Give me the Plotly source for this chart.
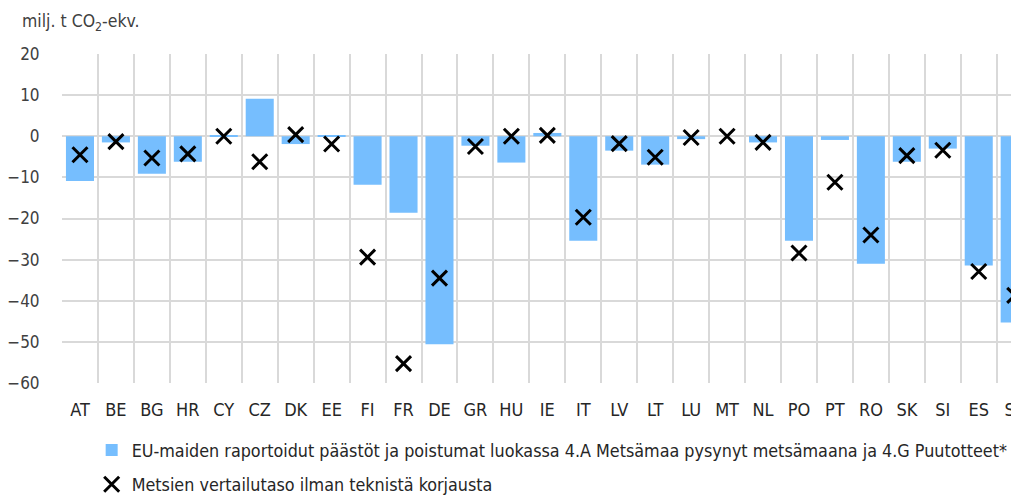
"""
EU forest land emissions/removals vs forest reference level, bar + cross chart.
"""

import plotly.graph_objects as go

countries = ["AT", "BE", "BG", "HR", "CY", "CZ", "DK", "EE", "FI", "FR", "DE", "GR", "HU", "IE",
             "IT", "LV", "LT", "LU", "MT", "NL", "PO", "PT", "RO", "SK", "SI", "ES", "SE"]
reported = [-10.9, -1.5, -9.1, -6.2, 0.2, 9.1, -1.9, 0.3, -11.8, -18.6, -50.6, -2.3, -6.4, 0.8,
            -25.4, -3.5, -6.9, -0.7, 0.0, -1.5, -25.4, -0.9, -31.0, -6.2, -3.0, -31.4, -45.3]
reference_level = [-4.5, -1.3, -5.3, -4.3, 0.0, -6.2, 0.4, -1.9, -29.4, -55.3, -34.5, -2.5, 0.0, 0.2,
                   -19.7, -1.8, -5.1, -0.3, 0.0, -1.5, -28.4, -11.2, -24.0, -4.7, -3.4, -32.9, -38.7]
y_ticks = [20, 10, 0, -10, -20, -30, -40, -50, -60]

bar_name = "EU-maiden raportoidut päästöt ja poistumat luokassa 4.A Metsämaa pysynyt metsämaana ja 4.G Puutotteet*"
cross_name = "Metsien vertailutaso ilman teknistä korjausta"

FONT = "DejaVu Sans Condensed, Liberation Sans Narrow, Liberation Sans, sans-serif"
TEXT = "#404040"
GRID = "#d9d9d9"

fig = go.Figure()
fig.add_trace(go.Bar(
    x=countries, y=reported, name=bar_name,
    marker=dict(color="#76befe", line=dict(width=0)),
    legendgroup="a",
))
fig.add_trace(go.Scatter(
    x=countries, y=reference_level, name=cross_name, mode="markers",
    marker=dict(symbol="x-thin", size=15, color="black", line=dict(width=3, color="black")),
    legendgroup="b",
))

# page body has an 8px margin, so the figure is offset by 8px inside the window
fig.update_layout(
    width=1011, height=487,
    margin=dict(l=54, r=0, t=46, b=112, autoexpand=False),
    paper_bgcolor="white", plot_bgcolor="white",
    font=dict(family=FONT, size=18, color=TEXT),
    bargap=0.22,
    showlegend=True,
    legend=dict(
        x=0.031, y=-0.149,
        xanchor="left", yanchor="top",
        traceorder="grouped", tracegroupgap=8,
        font=dict(size=17.8, color="#262626"),
        bgcolor="rgba(0,0,0,0)",
    ),
    annotations=[dict(
        text="milj. t CO<sub>2</sub>-ekv.", xref="paper", yref="paper",
        x=-0.044, y=1.095, xanchor="left", yanchor="middle", showarrow=False,
        font=dict(size=17.5, color=TEXT),
    )],
)
fig.update_xaxes(
    type="category", range=[-0.5, 26.12],
    tickson="boundaries", showgrid=True, gridcolor=GRID, gridwidth=1.5,
    ticks="", ticklabelstandoff=14,
    tickfont=dict(size=18, color="#262626"),
    showline=False, zeroline=False,
)
fig.update_yaxes(
    range=[-60, 20], tickvals=y_ticks,
    showgrid=True, gridcolor=GRID, gridwidth=1.5,
    zeroline=True, zerolinecolor=GRID, zerolinewidth=1.5,
    ticks="outside", ticklen=18, tickcolor="rgba(0,0,0,0)",
    tickfont=dict(size=17, color=TEXT),
)

fig.write_html("out.html")
